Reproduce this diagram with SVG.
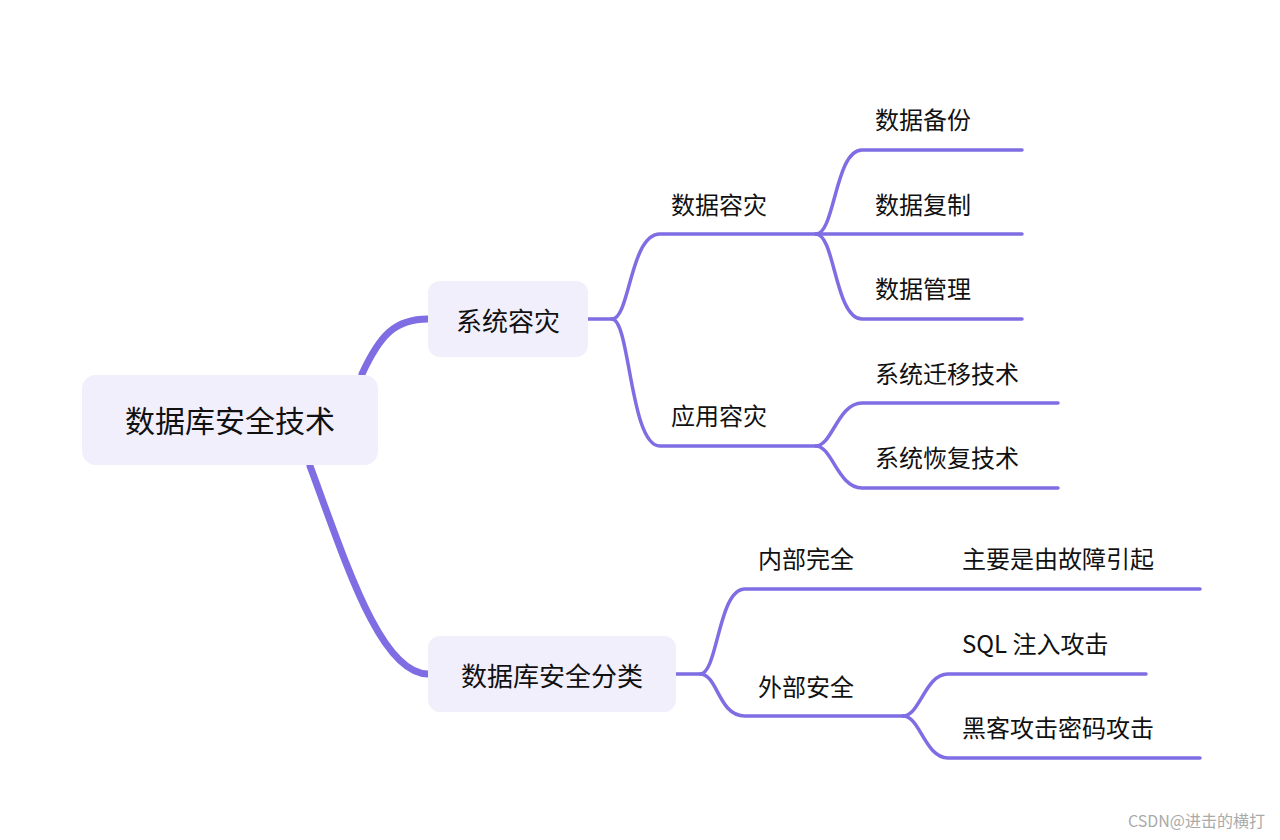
<svg xmlns="http://www.w3.org/2000/svg" width="1280" height="840" viewBox="0 0 1280 840">
<style>
.box{fill:#f1effc}
.t{font-family:"Noto Sans CJK SC","Liberation Sans",sans-serif;fill:#111;font-size:24px}
.big{font-size:30px}
.mid{font-size:26px}
.c{fill:none;stroke:#7f6de3;stroke-width:3.5;stroke-linecap:round}
.thick{stroke-width:7}
</style>
<rect width="1280" height="840" fill="#fff"/>
<g id="connectors">
<path class="c thick" d="M362,374 C380,335 395,319 428,319"/>
<path class="c thick" d="M310,466 C345,560 380,674 428,674"/>
<path class="c" d="M588,319 H612 C630,319 630,234 660,234 H816"/>
<path class="c" d="M612,319 C630,319 630,446 660,446 H816"/>
<path class="c" d="M816,234 C835,234 835,150 862,150 H1022"/>
<path class="c" d="M816,234 H1022"/>
<path class="c" d="M816,234 C835,234 835,319 862,319 H1022"/>
<path class="c" d="M816,446 C832,446 838,403 862,403 H1058"/>
<path class="c" d="M816,446 C832,446 838,488 862,488 H1058"/>
<path class="c" d="M676,674 H700 C718,674 718,589 745,589 H1200"/>
<path class="c" d="M700,674 C718,674 718,716 745,716 H903"/>
<path class="c" d="M903,716 C920,716 925,674 948,674 H1146"/>
<path class="c" d="M903,716 C920,716 925,758 948,758 H1200"/>
</g>
<g id="root"><rect class="box" x="82" y="375" width="296" height="90" rx="14"/><text class="t big" x="230" y="432" text-anchor="middle">数据库安全技术</text></g>
<g id="n1"><rect class="box" x="428" y="281" width="160" height="76" rx="12"/><text class="t mid" x="508" y="331" text-anchor="middle">系统容灾</text></g>
<g id="n2"><rect class="box" x="428" y="636" width="248" height="76" rx="12"/><text class="t mid" x="552" y="686" text-anchor="middle">数据库安全分类</text></g>
<g id="n3"><text class="t" x="671" y="214">数据容灾</text></g>
<g id="n4"><text class="t" x="671" y="425">应用容灾</text></g>
<g id="n5"><text class="t" x="875" y="129">数据备份</text></g>
<g id="n6"><text class="t" x="875" y="214">数据复制</text></g>
<g id="n7"><text class="t" x="875" y="298">数据管理</text></g>
<g id="n8"><text class="t" x="875" y="383">系统迁移技术</text></g>
<g id="n9"><text class="t" x="875" y="467">系统恢复技术</text></g>
<g id="n10"><text class="t" x="758" y="568">内部完全</text></g>
<g id="n11"><text class="t" x="962" y="568">主要是由故障引起</text></g>
<g id="n12"><text class="t" x="758" y="696">外部安全</text></g>
<g id="n13"><text class="t" x="962" y="653">SQL 注入攻击</text></g>
<g id="n14"><text class="t" x="962" y="737">黑客攻击密码攻击</text></g>
<text x="1265" y="827" text-anchor="end" font-family="Noto Sans CJK SC,Liberation Sans,sans-serif" font-size="16" fill="#aaa">CSDN@进击的横打</text>
</svg>
